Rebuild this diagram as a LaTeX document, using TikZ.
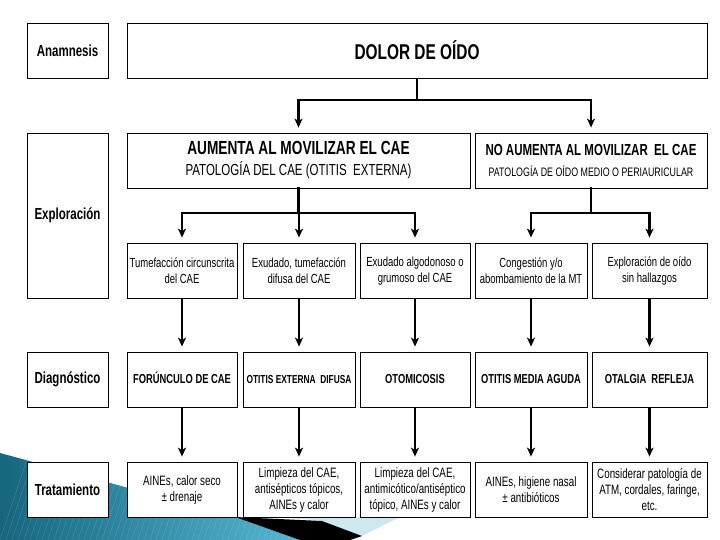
\documentclass[tikz,border=0pt]{standalone}
\usepackage{fontspec}
\setmainfont{Liberation Sans}[FakeStretch=0.72]
\usetikzlibrary{arrows.meta}
\definecolor{tealA}{HTML}{16667D}
\definecolor{tealB}{HTML}{55B6D3}
\definecolor{paleblue}{HTML}{CFE8F0}
\newcommand\Bx[7]{\node[bx,#2,minimum width={(#5-#3)*1pt},minimum height={(#6-#4)*1pt}] (#1) at ({(#3+#5)/2},{(#4+#6)/2}) {#7};}
\newcommand\fl{\rule{0pt}{11pt}}
\begin{document}
\begin{tikzpicture}[x=1pt,y=-1pt,
  bx/.style={draw=black,fill=white,line width=0.8pt,inner sep=1pt,align=center,anchor=center},
  lbl/.style={font=\fontsize{16}{18}\selectfont\bfseries},
  txt/.style={font=\fontsize{13.2}{16}\selectfont},
  dg/.style={font=\fontsize{13}{15}\selectfont\bfseries,text height=9.5pt,text depth=2pt},
  tr/.style={font=\fontsize{13.6}{16}\selectfont},
  bar/.style={line width=2.4pt,line cap=rect},
  arr/.style={line width=2.4pt,-{Stealth[length=9pt,width=8pt,inset=2.5pt]},shorten >=5pt},
  thin/.style={line width=1.2pt}]
\useasboundingbox (0,0) rectangle (720,540);
\fill[white] (0,0) rectangle (720,540);
% decoration bottom left
\shade[left color=tealA,right color=tealB] (0,453) -- (235,517) -- (300,540) -- (0,540) -- cycle;
\begin{scope}
\clip (0,453) -- (235,517) -- (300,540) -- (0,540) -- cycle;
\foreach \i in {0,6,...,360}{\draw[white,opacity=0.12,line width=0.6pt] (\i,540) -- ++(30,-90);}
\end{scope}
\fill[paleblue] (280,517) -- (400,517) -- (362,536) -- (322,521) -- cycle;
\fill[black] (235,517) -- (322,521) -- (362,536) -- (350,540) -- (300,540) -- cycle;
% row labels
\Bx{anam}{lbl}{27}{23}{108}{78}{Anamnesis}
\Bx{expl}{lbl}{27}{133}{108}{298}{Exploración}
\Bx{diag}{lbl}{27}{352}{108}{407}{Diagnóstico}
\Bx{trat}{lbl}{27}{462}{108}{517}{Tratamiento}
% top
\Bx{dolor}{font=\fontsize{21.4}{24}\selectfont\bfseries}{127}{23}{707}{78}{DOLOR DE OÍDO}
\Bx{aum}{font=\fontsize{16}{21}\selectfont}{127}{133}{470}{188}{{\fontsize{19}{21}\selectfont\bfseries AUMENTA AL MOVILIZAR EL CAE}\\PATOLOGÍA DEL CAE (OTITIS\ \ EXTERNA)}
\Bx{noaum}{font=\fontsize{12.3}{21}\selectfont}{475}{133}{707}{188}{{\fontsize{16}{21}\selectfont\bfseries NO AUMENTA AL MOVILIZAR\ \ EL CAE}\\PATOLOGÍA\ DE OÍDO MEDIO O PERIAURICULAR}
% exploration
\Bx{ex1}{txt}{127}{243}{237}{298}{\fl Tumefacción circunscrita\\del CAE}
\Bx{ex2}{txt}{243}{243}{355}{298}{\fl Exudado, tumefacción\\difusa del CAE}
\Bx{ex3}{txt}{360}{243}{470}{298}{\fl Exudado algodonoso o\\grumoso del CAE}
\Bx{ex4}{txt}{475}{243}{587}{298}{\fl Congestión y/o\\abombamiento de la MT}
\Bx{ex5}{txt}{592}{243}{707}{298}{\fl Exploración de oído\\sin hallazgos}
% diagnosis
\Bx{dg1}{dg}{127}{352}{237}{407}{FORÚNCULO DE CAE}
\Bx{dg2}{dg,font=\fontsize{11.6}{13}\selectfont\bfseries}{243}{352}{355}{407}{OTITIS EXTERNA\ \ DIFUSA}
\Bx{dg3}{dg}{360}{352}{470}{407}{OTOMICOSIS}
\Bx{dg4}{dg}{475}{352}{587}{407}{OTITIS MEDIA AGUDA}
\Bx{dg5}{dg}{592}{352}{707}{407}{OTALGIA\ \ REFLEJA}
% treatment
\Bx{tr1}{tr}{127}{462}{237}{517}{\fl AINEs, calor seco\\± drenaje}
\Bx{tr2}{tr}{243}{462}{355}{517}{\fl Limpieza del CAE,\\antisépticos tópicos,\\AINEs y calor}
\Bx{tr3}{tr}{360}{462}{470}{517}{\fl Limpieza del CAE,\\antimicótico/antiséptico\\tópico, AINEs y calor}
\Bx{tr4}{tr}{475}{462}{587}{517}{\fl AINEs, higiene nasal\\± antibióticos}
\Bx{tr5}{tr}{592}{462}{707}{517}{\fl Considerar patología de\\ATM, cordales, faringe,\\etc.}
% split coordinates
\coordinate (s0) at (417,100);
\coordinate (s1) at (0,213);
% connectors level 1
\draw[thin] (dolor.south -| s0) -- (s0);
\coordinate (a1) at (aum.north |- s0);
\coordinate (a2) at (noaum.north |- s0);
\draw[bar] (a1) -- (a2);
\draw[arr] (a1) -- (aum.north);
\draw[arr] (a2) -- (noaum.north);
% level 2
\coordinate (c1) at (ex1.north |- s1);
\coordinate (c2) at (ex2.north |- s1);
\coordinate (c3) at (ex3.north |- s1);
\coordinate (c4) at (ex4.north |- s1);
\coordinate (c5) at (ex5.north |- s1);
\draw[bar] (aum.south) -- (aum.south |- s1);
\draw[bar] (noaum.south) -- (noaum.south |- s1);
\draw[bar] (c1) -- (c3);
\draw[bar] (c4) -- (c5);
\foreach \k in {1,...,5}{\draw[arr] (c\k) -- (ex\k.north);}
% level 3 and 4
\foreach \k in {1,...,5}{
  \draw[arr] (ex\k.south) -- (dg\k.north);
  \draw[arr] (dg\k.south) -- (tr\k.north);
}
\end{tikzpicture}
\end{document}
